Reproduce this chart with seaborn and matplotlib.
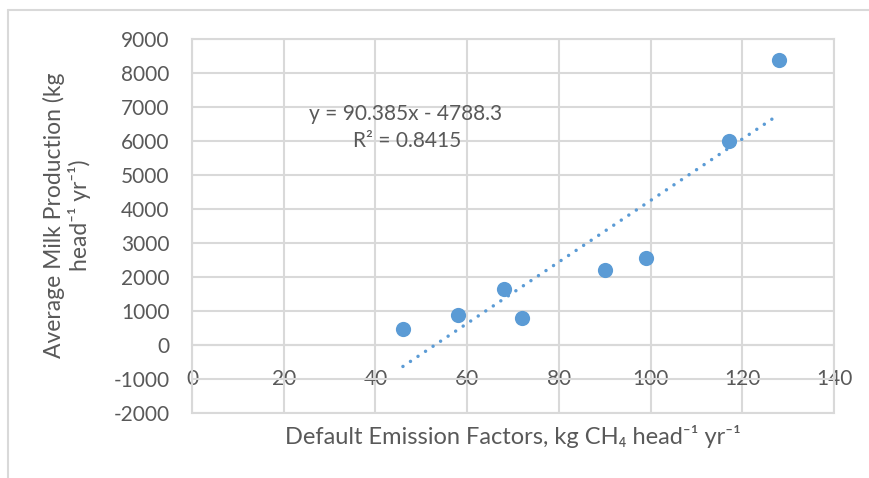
import matplotlib
matplotlib.use("Agg")
import matplotlib.pyplot as plt
import seaborn as sns
import numpy as np
import pandas as pd
from matplotlib.lines import Line2D

# ---- data ----
emission_factors = [46, 58, 68, 72, 90, 99, 117, 128]
milk_production = [480, 895, 1660, 795, 2220, 2550, 5995, 8375]
trend_slope = 90.385
trend_intercept = -4788.3
equation_text = "y = 90.385x - 4788.3"
r2_text = "R² = 0.8415"
x_ticks = [0, 20, 40, 60, 80, 100, 120, 140]
y_ticks = [-2000, -1000, 0, 1000, 2000, 3000, 4000, 5000, 6000, 7000, 8000, 9000]

sns.set_theme(style="white")
plt.rcParams['font.family'] = ['Lato', 'DejaVu Sans']

TEXT = '#595959'
GRID = '#D9D9D9'
BLUE = '#5B9BD5'

df = pd.DataFrame({'x': emission_factors, 'y': milk_production})

fig = plt.figure(figsize=(8.69, 4.78), dpi=100)
ax = fig.add_axes([192/869, 1-413/478, (834-192)/869, (413-39)/478])

# trendline over data range
xt = np.array([min(emission_factors), max(emission_factors)], dtype=float)
trend = pd.DataFrame({'x': xt, 'y': trend_slope*xt + trend_intercept})
ax.plot(trend['x'], trend['y'], color=BLUE, lw=2.5, dashes=(0.01, 2.6),
        dash_capstyle='round', zorder=3)

sns.scatterplot(data=df, x='x', y='y', ax=ax, s=120, color=BLUE,
                linewidth=0, zorder=4)

ax.set_xlim(0, 140)
ax.set_ylim(-2000, 9000)
ax.set_xticks(x_ticks)
ax.set_yticks(y_ticks)
ax.set_xticklabels([str(v) for v in x_ticks])
ax.set_yticklabels([str(v) for v in y_ticks])
ax.grid(True, color=GRID, lw=1.5)
ax.set_axisbelow(True)
for s in ['left', 'right', 'top', 'bottom']:
    ax.spines[s].set_color(GRID)
    ax.spines[s].set_linewidth(1.5)
ax.spines['bottom'].set_position(('data', 0))
ax.axhline(-2000, color=GRID, lw=1.5, clip_on=False, zorder=0)
ax.tick_params(axis='both', length=0, labelsize=15, labelcolor=TEXT)
ax.tick_params(axis='y', pad=16)
ax.tick_params(axis='x', pad=17)
ax.set_xlabel('')
ax.set_ylabel('')

ax.text(46.5, 6790, equation_text, ha='center', va='center', fontsize=15, color=TEXT)
ax.text(47, 5990, r2_text, ha='center', va='center', fontsize=15, color=TEXT)

fig.text(513/869, 1-437/478,
         "Default Emission Factors, kg CH₄ head⁻¹ yr⁻¹",
         ha='center', va='center', fontsize=17, color=TEXT)
fig.text(67/869, 1-215/478,
         "Average Milk Production (kg\nhead⁻¹ yr⁻¹)",
         ha='center', va='center', rotation=90, fontsize=16.5, color=TEXT,
         multialignment='center', linespacing=1.2)

# chart frame
fig.add_artist(Line2D([8/869, 1.0], [1-10/478, 1-10/478], color=GRID, lw=1.5,
                      transform=fig.transFigure))
fig.add_artist(Line2D([8/869, 8/869], [0, 1-10/478], color=GRID, lw=1.5,
                      transform=fig.transFigure))

fig.savefig('out.png', dpi=100)
